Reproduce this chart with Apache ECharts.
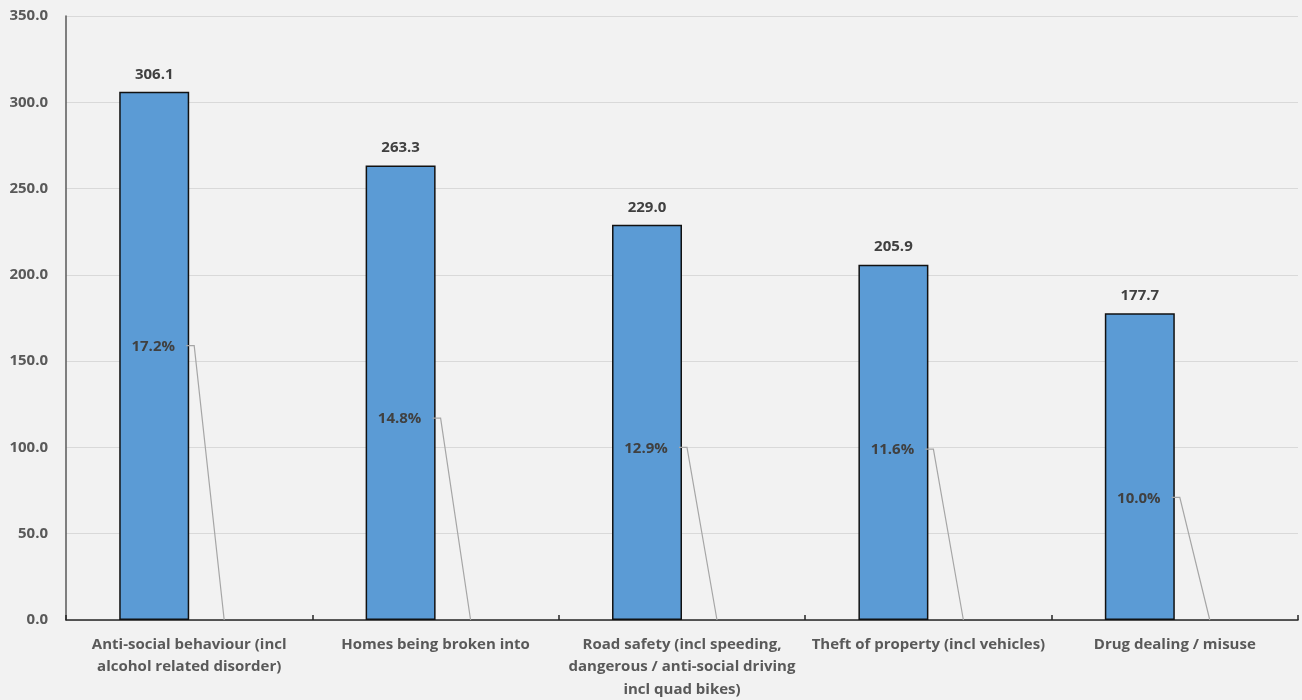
<!DOCTYPE html>
<html><head><meta charset="utf-8">
<script src="https://cdn.jsdelivr.net/npm/echarts@6/dist/echarts.min.js"></script>
<style>html,body{margin:0;padding:0;background:#F2F2F2;}#c{width:1302px;height:700px;}</style>
</head><body><div id="c"></div>
<script>
var categories = ['Anti-social behaviour (incl\nalcohol related disorder)', 'Homes being broken into', 'Road safety (incl speeding,\ndangerous / anti-social driving\nincl quad bikes)', 'Theft of property (incl vehicles)', 'Drug dealing / misuse'];
var values = [306.1, 263.3, 229.0, 205.9, 177.7];
var shares = [17.2, 14.8, 12.9, 11.6, 10.0];
var shareLabelLevel = [159, 117, 100, 99, 71];
var yTicks = { min: 0, max: 350, interval: 50 };

var FONT = 'Open Sans';
var FS = 15;
var chart = echarts.init(document.getElementById('c'));
chart.setOption({
  backgroundColor: '#F2F2F2',
  animation: false,
  grid: { left: 66, right: 4, top: 16, bottom: 80, outerBoundsMode: 'none', containLabel: false },
  xAxis: {
    type: 'category', data: categories,
    axisLine: { lineStyle: { color: '#262626', width: 1.5 } },
    axisTick: { show: true, inside: true, length: 5, lineStyle: { color: '#262626', width: 1.5 } },
    axisLabel: { color: '#595959', fontFamily: FONT, fontWeight: 'bold', fontSize: FS, lineHeight: 22.5, margin: 13, interval: 0 }
  },
  yAxis: {
    type: 'value', min: yTicks.min, max: yTicks.max, interval: yTicks.interval,
    axisLine: { show: true, lineStyle: { color: '#595959', width: 1.5 } },
    axisTick: { show: false },
    splitLine: { lineStyle: { color: '#D9D9D9', width: 1 } },
    axisLabel: { color: '#595959', fontFamily: FONT, fontWeight: 'bold', fontSize: FS, margin: 18,
      formatter: function (v) { return v.toFixed(1); } }
  },
  series: [
    {
      type: 'bar', data: values, barWidth: '28.4%', barGap: '0%',
      itemStyle: { color: '#5B9BD5', borderColor: '#111', borderWidth: 1.5 },
      label: { show: true, position: 'top', distance: 10, color: '#404040', fontFamily: FONT, fontWeight: 'bold', fontSize: FS,
        formatter: function (p) { return p.value.toFixed(1); } }
    },
    {
      type: 'bar', data: values.map(function () { return 0; }), barWidth: '28.4%', barGap: '0%',
      itemStyle: { color: 'transparent', borderWidth: 0 }, silent: true
    },
    {
      type: 'custom', z: 10,
      data: shares.map(function (s, i) { return [i, shareLabelLevel[i], s]; }),
      renderItem: function (params, api) {
        var i = api.value(0);
        var p = api.coord([i, api.value(1)]);
        var base = api.coord([i, 0]);
        var bw = api.size([1, 0])[0] * 0.284;
        var c = p[0];
        return {
          type: 'group',
          children: [
            { type: 'polyline', shape: { points: [[c - 3, p[1]], [c + 5, p[1]], [c + bw / 2, base[1]]] },
              style: { stroke: '#A6A6A6', lineWidth: 1.2, fill: null } },
            { type: 'text', style: { text: api.value(2).toFixed(1) + '%', x: c - bw / 2 - 1, y: p[1] + 1,
              textAlign: 'center', textVerticalAlign: 'middle', fill: '#404040',
              font: 'bold ' + FS + 'px ' + FONT } }
          ]
        };
      }
    }
  ]
});
</script></body></html>
